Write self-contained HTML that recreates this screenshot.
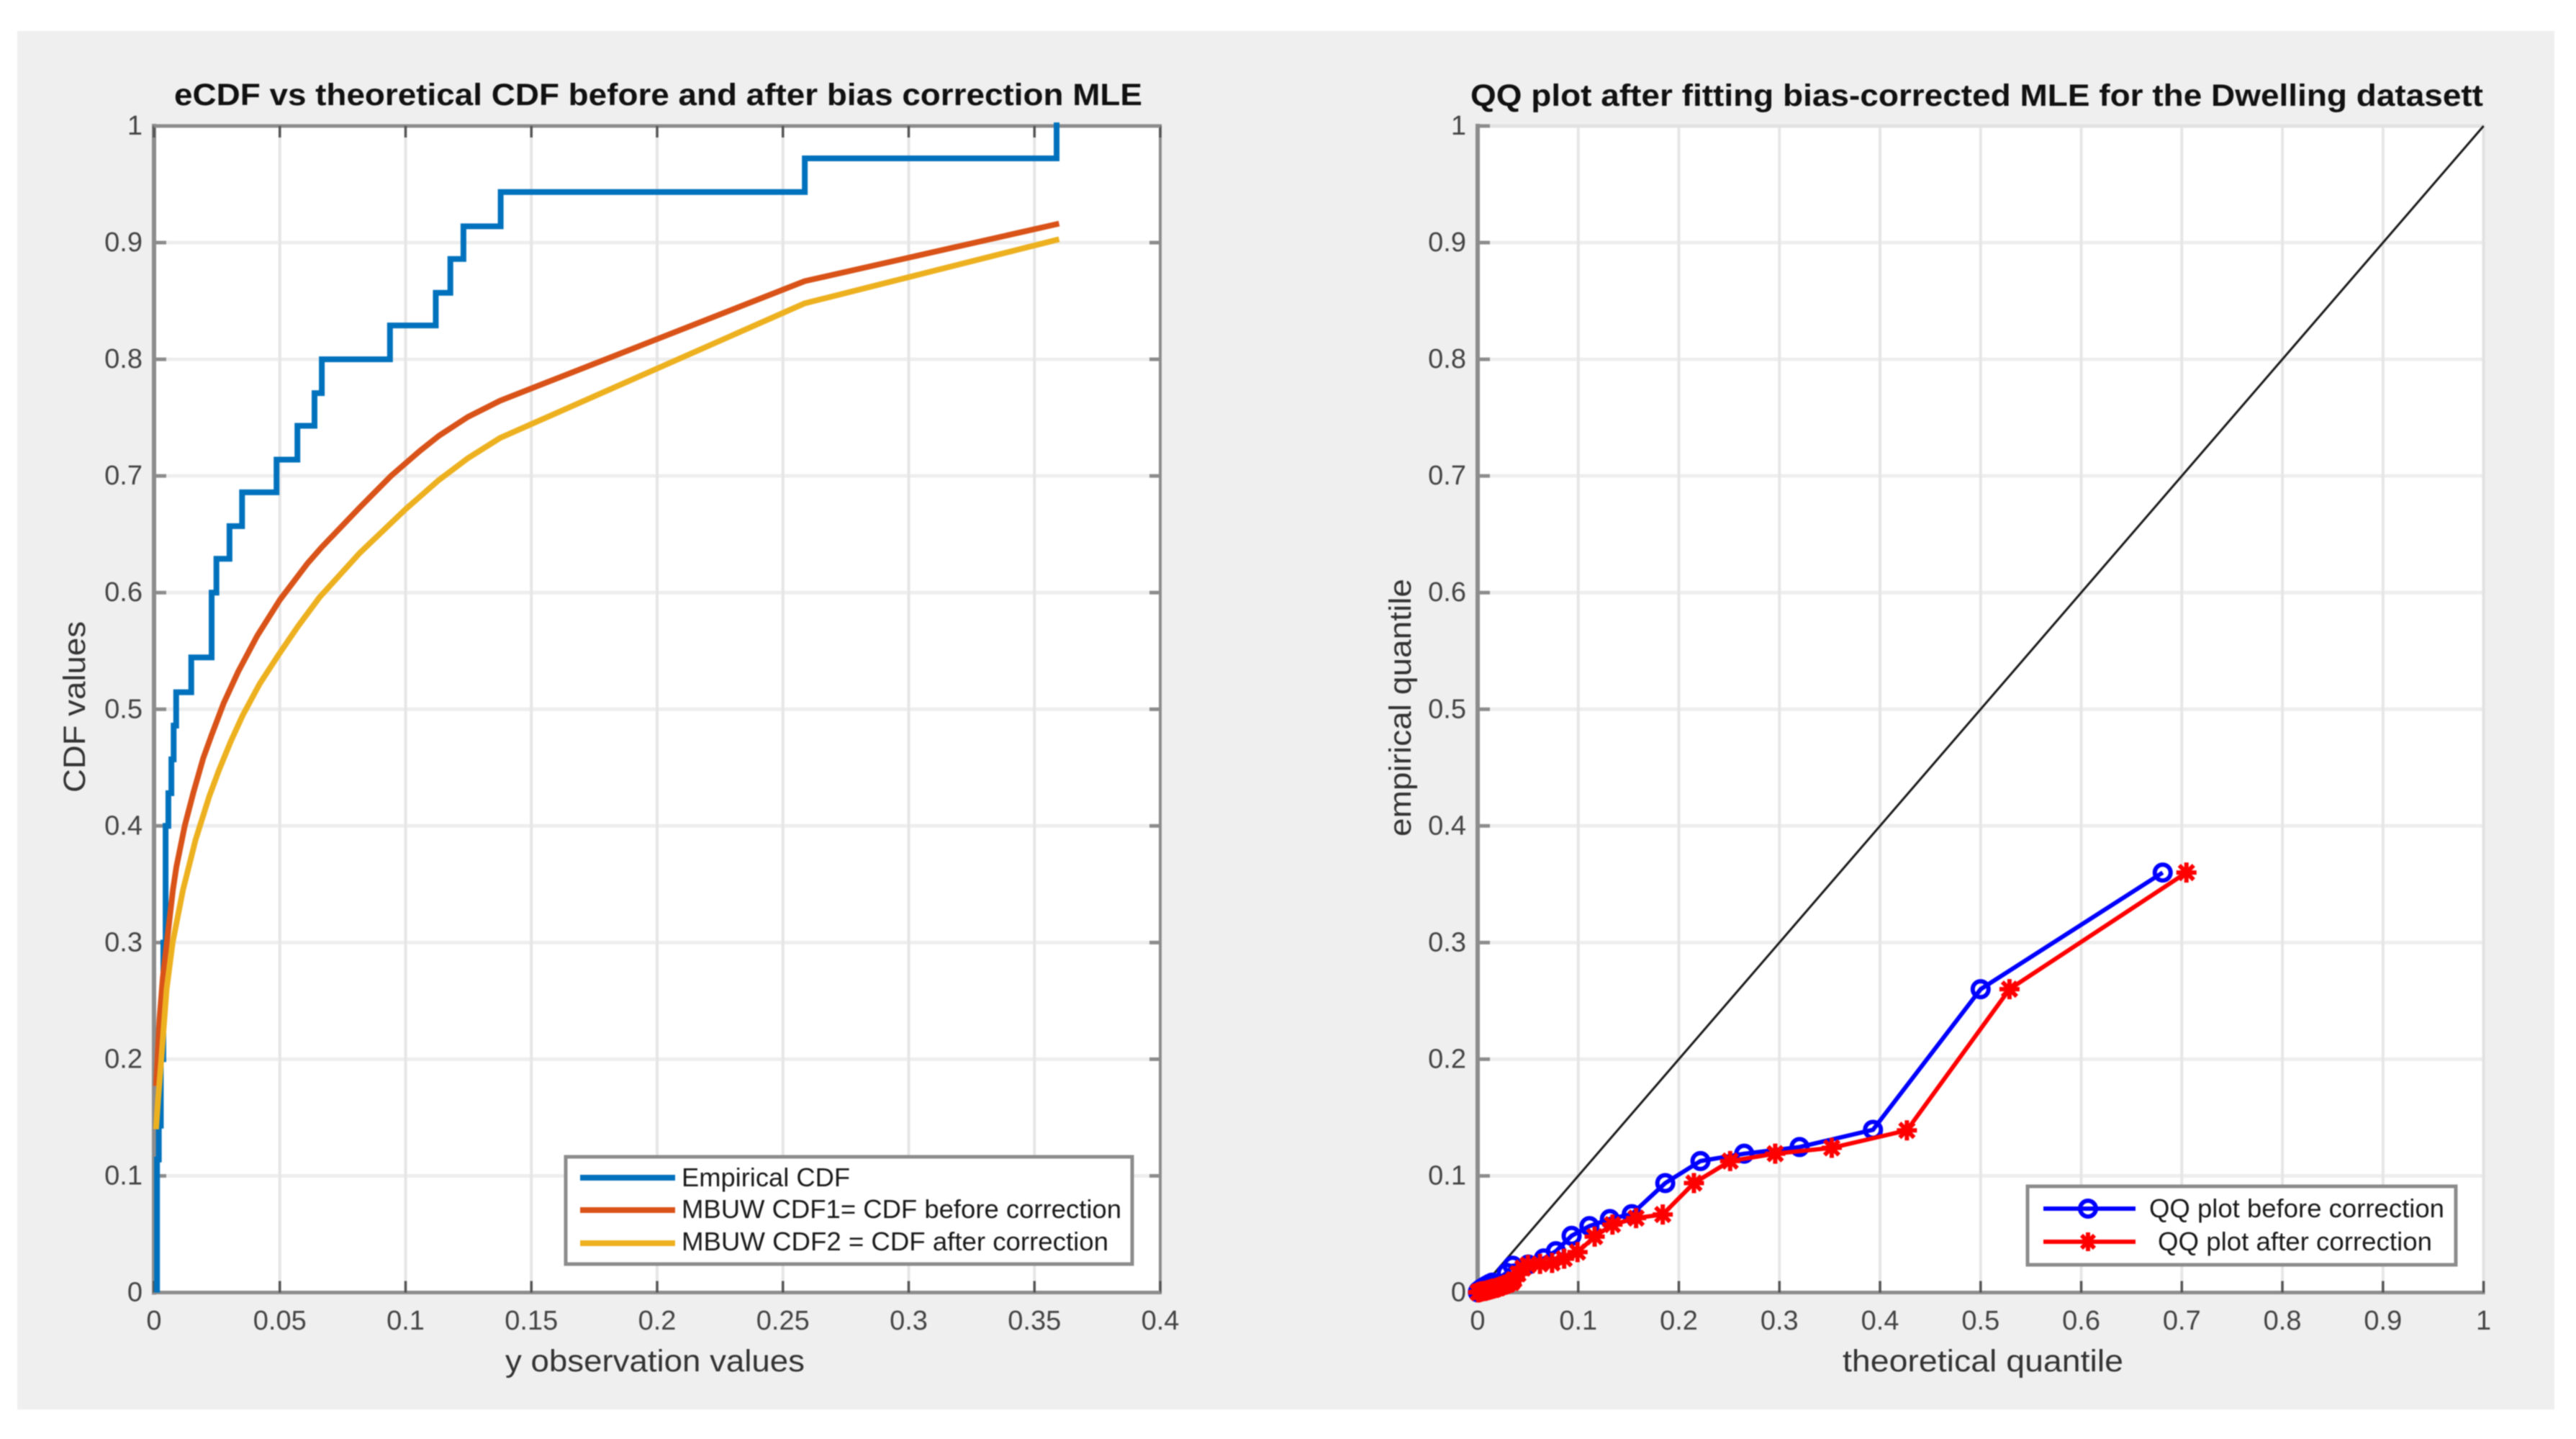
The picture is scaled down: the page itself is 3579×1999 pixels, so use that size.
<!DOCTYPE html>
<html lang="en">
<head>
<meta charset="utf-8">
<title>eCDF and QQ plots</title>
<style>
html,body{margin:0;padding:0;background:#fff;}
#figure{display:block;width:3579px;height:1999px;filter:blur(0.9px);}
text{font-family:"Liberation Sans",Arial,sans-serif;}
.tick{font-size:38px;fill:#444;}
.axis-label{font-size:43px;fill:#333;}
.title{font-size:43px;font-weight:bold;fill:#111;}
.legend-text{font-size:36px;fill:#1a1a1a;}
</style>
</head>
<body>
<svg id="figure" xmlns="http://www.w3.org/2000/svg" width="3579" height="1999" viewBox="0 0 3579 1999">
  <rect x="0" y="0" width="3579" height="1999" fill="#ffffff"/>
  <rect x="24" y="43" width="3525" height="1915" fill="#efefef"/>

  <g>
    <rect x="214" y="175" width="1398" height="1621" fill="#ffffff"/>
    <g id="left-grid"></g>
    <g id="left-axes"></g>
    <g id="left-series"></g>
    <text class="title" x="242" y="146" textLength="1345" lengthAdjust="spacingAndGlyphs">eCDF vs theoretical CDF before and after bias correction MLE</text>
    <text class="axis-label" x="702" y="1905" textLength="416" lengthAdjust="spacingAndGlyphs">y observation values</text>
    <text class="axis-label" transform="translate(118 982) rotate(-90)" text-anchor="middle" textLength="238" lengthAdjust="spacingAndGlyphs">CDF values</text>
    <g>
      <rect x="786" y="1607" width="787" height="149" fill="#ffffff" stroke="#8c8c8c" stroke-width="5"/>
      <line x1="806" x2="938" y1="1636" y2="1636" stroke="#0072BD" stroke-width="8"/>
      <text class="legend-text" x="947" y="1648" textLength="234" lengthAdjust="spacingAndGlyphs">Empirical CDF</text>
      <line x1="806" x2="938" y1="1681" y2="1681" stroke="#D95319" stroke-width="8"/>
      <text class="legend-text" x="947" y="1692" textLength="611" lengthAdjust="spacingAndGlyphs">MBUW CDF1= CDF before correction</text>
      <line x1="806" x2="938" y1="1727" y2="1727" stroke="#EDB120" stroke-width="8"/>
      <text class="legend-text" x="947" y="1737" textLength="593" lengthAdjust="spacingAndGlyphs">MBUW CDF2 = CDF after correction</text>
    </g>
  </g>

  <g>
    <rect x="2053" y="175" width="1398" height="1621" fill="#ffffff"/>
    <g id="right-grid"></g>
    <g id="right-axes"></g>
    <g id="right-series"></g>
    <text class="title" x="2043" y="147" textLength="1407" lengthAdjust="spacingAndGlyphs">QQ plot after fitting bias-corrected MLE for the Dwelling datasett</text>
    <text class="axis-label" x="2560" y="1905" textLength="390" lengthAdjust="spacingAndGlyphs">theoretical quantile</text>
    <text class="axis-label" transform="translate(1960 983) rotate(-90)" text-anchor="middle" textLength="358" lengthAdjust="spacingAndGlyphs">empirical quantile</text>
    <g>
      <rect x="2817" y="1648" width="595" height="109" fill="#ffffff" stroke="#8c8c8c" stroke-width="5"/>
      <line x1="2839" x2="2967" y1="1679" y2="1679" stroke="#0000ff" stroke-width="6"/>
      <circle cx="2901" cy="1679" r="11" fill="none" stroke="#0000ff" stroke-width="6"/>
      <text class="legend-text" x="2986" y="1691" textLength="410" lengthAdjust="spacingAndGlyphs">QQ plot before correction</text>
      <line x1="2839" x2="2967" y1="1725" y2="1725" stroke="#ff0000" stroke-width="6"/>
      <path d="M2888 1725H2914M2901 1712V1738M2892 1716L2910 1734M2892 1734L2910 1716" fill="none" stroke="#ff0000" stroke-width="6"/>
      <text class="legend-text" x="2998" y="1737" textLength="381" lengthAdjust="spacingAndGlyphs">QQ plot after correction</text>
    </g>
  </g>
</svg>
<script>
// ---------- chart data ----------
const cdfXTicks = [0, 0.05, 0.1, 0.15, 0.2, 0.25, 0.3, 0.35, 0.4];
const cdfXLabels = ['0', '0.05', '0.1', '0.15', '0.2', '0.25', '0.3', '0.35', '0.4'];
const unitTicks = [0, 0.1, 0.2, 0.3, 0.4, 0.5, 0.6, 0.7, 0.8, 0.9, 1];
const unitLabels = ['0', '0.1', '0.2', '0.3', '0.4', '0.5', '0.6', '0.7', '0.8', '0.9', '1'];

const ecdfJumpX = [0.0012, 0.0019, 0.0027, 0.0037, 0.0046, 0.0057, 0.0069, 0.0078, 0.0088, 0.0148, 0.0229, 0.0248, 0.03, 0.035, 0.0487, 0.057, 0.0638, 0.0667, 0.0938, 0.112, 0.1178, 0.123, 0.1378, 0.2587, 0.3588];
const ecdfLevel = [0.114, 0.143, 0.2, 0.3, 0.4, 0.428, 0.457, 0.486, 0.5146, 0.5444, 0.6, 0.629, 0.657, 0.686, 0.714, 0.743, 0.771, 0.8, 0.829, 0.857, 0.886, 0.914, 0.9434, 0.9722, 1.003];

const beforeCdfX = [0.0008, 0.0014, 0.0022, 0.0035, 0.0051, 0.0075, 0.0089, 0.0122, 0.0157, 0.01955, 0.0229, 0.0277, 0.0334, 0.041, 0.0501, 0.061, 0.0667, 0.0818, 0.0942, 0.1057, 0.1133, 0.1247, 0.1376, 0.2587, 0.3598];
const beforeCdfY = [0.177, 0.2, 0.235, 0.27, 0.3, 0.345, 0.365, 0.4, 0.429, 0.458, 0.478, 0.5053, 0.532, 0.5629, 0.594, 0.625, 0.639, 0.673, 0.7, 0.7215, 0.7345, 0.7505, 0.7645, 0.867, 0.9163];

const afterCdfX = [0.0008, 0.0016, 0.0029, 0.005, 0.0074, 0.0115, 0.0165, 0.0219, 0.0258, 0.0305, 0.0353, 0.042, 0.0496, 0.0572, 0.0658, 0.0818, 0.1, 0.1133, 0.1247, 0.1376, 0.2587, 0.3598];
const afterCdfY = [0.14, 0.165, 0.2, 0.26, 0.3, 0.345, 0.388, 0.425, 0.4477, 0.4724, 0.495, 0.5218, 0.547, 0.571, 0.596, 0.634, 0.6715, 0.6966, 0.7151, 0.7326, 0.848, 0.9029];

const refLineX = [0, 1];
const refLineY = [0, 1];

const qqBeforeX = [0.681, 0.5, 0.393, 0.32, 0.265, 0.2215, 0.1865, 0.1532, 0.1314, 0.1111, 0.0934, 0.0778, 0.0658, 0.0502, 0.0348, 0.0288, 0.0145, 0.012, 0.01, 0.009, 0.008, 0.007, 0.006, 0.005, 0.004, 0.0035, 0.003, 0.0025, 0.002, 0.0015, 0.001, 0.0008, 0.0006, 0.0004, 0.0002];
const qqBeforeY = [0.36, 0.26, 0.1395, 0.1247, 0.119, 0.1127, 0.0938, 0.0672, 0.063, 0.0569, 0.0486, 0.0354, 0.0292, 0.024, 0.023, 0.0168, 0.0085, 0.0075, 0.0065, 0.006, 0.0055, 0.005, 0.0045, 0.004, 0.0035, 0.003, 0.0027, 0.0024, 0.002, 0.0017, 0.0014, 0.0012, 0.001, 0.0006, 0.0002];
const qqAfterX = [0.7046, 0.5287, 0.4267, 0.352, 0.2958, 0.251, 0.215, 0.184, 0.1575, 0.134, 0.1163, 0.0993, 0.086, 0.074, 0.062, 0.05, 0.045, 0.04, 0.036, 0.0336, 0.03, 0.027, 0.024, 0.021, 0.019, 0.016, 0.014, 0.012, 0.01, 0.008, 0.006, 0.004, 0.003, 0.002, 0.001, 0.0005];
const qqAfterY = [0.36, 0.26, 0.139, 0.124, 0.119, 0.1127, 0.0938, 0.0669, 0.0638, 0.0582, 0.0479, 0.0346, 0.029, 0.0254, 0.0245, 0.0235, 0.021, 0.016, 0.011, 0.0085, 0.0075, 0.0066, 0.0055, 0.0046, 0.004, 0.0035, 0.003, 0.0025, 0.002, 0.0015, 0.0012, 0.001, 0.0008, 0.0005, 0.0003, 0.0001];

// ---------- axis functions ----------
const yScale = v => 1795.5 - 1620.5 * v;
const xCdf = v => 214 + 3495 * v;
const xQQ = v => 2053 + 1397.6 * v;

const NS = 'http://www.w3.org/2000/svg';
function make(tag, attrs, parent) {
  const node = document.createElementNS(NS, tag);
  for (const key in attrs) node.setAttribute(key, attrs[key]);
  parent.appendChild(node);
  return node;
}
function polyPath(xs, ys, xf) {
  return xs.map((v, i) => (i ? 'L' : 'M') + xf(v).toFixed(2) + ' ' + yScale(ys[i]).toFixed(2)).join('');
}

const leftGrid = document.getElementById('left-grid');
const leftAxes = document.getElementById('left-axes');
const leftSeries = document.getElementById('left-series');
const rightGrid = document.getElementById('right-grid');
const rightAxes = document.getElementById('right-axes');
const rightSeries = document.getElementById('right-series');

const AXIS = '#8c8c8c', GRID_V = '#e6e6e6', GRID_H = '#eeeeee', TICK = '#555555';

function drawGrid(parent, xTicks, xf, x0, x1) {
  unitTicks.forEach(t => {
    const g = make('line', {x1: x0, x2: x1, y1: yScale(t), y2: yScale(t), stroke: GRID_H, 'stroke-width': 5}, parent);
    
    
  });
  xTicks.forEach(t => {
    const g = make('line', {x1: xf(t), x2: xf(t), y1: yScale(1), y2: yScale(0), stroke: GRID_V, 'stroke-width': 4}, parent);
    
    
  });
}

function drawAxes(parent, xTicks, xLabels, xf, x0, x1, boxed) {
  const top = yScale(1), bottom = yScale(0);
  const spineLeft = make('line', {x1: x0, x2: x0, y1: top - 3, y2: bottom + 3, stroke: AXIS, 'stroke-width': 6}, parent);
  
  
  const spineBottom = make('line', {x1: x0, x2: x1 + 2, y1: bottom, y2: bottom, stroke: AXIS, 'stroke-width': 5}, parent);
  
  
  if (boxed) {
    const spineTop = make('line', {x1: x0, x2: x1 + 2, y1: top, y2: top, stroke: AXIS, 'stroke-width': 5}, parent);
    
    
    const spineRight = make('line', {x1: x1, x2: x1, y1: top, y2: bottom, stroke: AXIS, 'stroke-width': 4}, parent);
    
    
  } else {
    const edgeTop = make('line', {x1: x0, x2: x1 + 2, y1: top, y2: top, stroke: '#e2e2e2', 'stroke-width': 5}, parent);
    
    
    const edgeRight = make('line', {x1: x1, x2: x1, y1: top, y2: bottom, stroke: '#e2e2e2', 'stroke-width': 4}, parent);
    
    
  }
  xTicks.forEach((t, i) => {
    const mark = make('line', {x1: xf(t), x2: xf(t), y1: bottom, y2: bottom - 16, stroke: TICK, 'stroke-width': 3.5}, parent);
    
    
    if (boxed) {
      const upper = make('line', {x1: xf(t), x2: xf(t), y1: top, y2: top + 16, stroke: TICK, 'stroke-width': 3.5}, parent);
      
      
    }
    const label = make('text', {x: xf(t), y: 1847, 'text-anchor': 'middle', class: 'tick'}, parent);
    
    
    label.textContent = xLabels[i];
  });
  unitTicks.forEach((t, i) => {
    const mark = make('line', {x1: x0, x2: x0 + 17, y1: yScale(t), y2: yScale(t), stroke: AXIS, 'stroke-width': 5}, parent);
    
    
    if (boxed) {
      const side = make('line', {x1: x1, x2: x1 - 15, y1: yScale(t), y2: yScale(t), stroke: AXIS, 'stroke-width': 5}, parent);
      
      
    }
    const label = make('text', {x: x0 - 16, y: yScale(t) + 12, 'text-anchor': 'end', class: 'tick'}, parent);
    
    
    label.textContent = unitLabels[i];
  });
}

drawGrid(leftGrid, cdfXTicks, xCdf, xCdf(0), xCdf(0.4));
drawAxes(leftAxes, cdfXTicks, cdfXLabels, xCdf, xCdf(0), xCdf(0.4), true);
drawGrid(rightGrid, unitTicks, xQQ, xQQ(0), xQQ(1));
drawAxes(rightAxes, unitTicks, unitLabels, xQQ, xQQ(0), xQQ(1), false);

// ---------- left series ----------
let stairs = 'M' + xCdf(ecdfJumpX[0]).toFixed(2) + ' ' + yScale(0).toFixed(2);
ecdfJumpX.forEach((v, i) => {
  stairs += 'L' + xCdf(v).toFixed(2) + ' ' + yScale(i ? ecdfLevel[i - 1] : 0).toFixed(2);
  stairs += 'L' + xCdf(v).toFixed(2) + ' ' + yScale(ecdfLevel[i]).toFixed(2);
});
const ecdfLine = make('path', {d: stairs, fill: 'none', stroke: '#0072BD', 'stroke-width': 8}, leftSeries);



const beforeLine = make('path', {d: polyPath(beforeCdfX, beforeCdfY, xCdf), fill: 'none', stroke: '#D95319', 'stroke-width': 8, 'stroke-linejoin': 'round'}, leftSeries);



const afterLine = make('path', {d: polyPath(afterCdfX, afterCdfY, xCdf), fill: 'none', stroke: '#EDB120', 'stroke-width': 8, 'stroke-linejoin': 'round'}, leftSeries);



// ---------- right series ----------
const refLine = make('path', {d: polyPath(refLineX, refLineY, xQQ), fill: 'none', stroke: '#1a1a1a', 'stroke-width': 3}, rightSeries);



const qqBeforeLine = make('path', {d: polyPath(qqBeforeX, qqBeforeY, xQQ), fill: 'none', stroke: '#0000ff', 'stroke-width': 6}, rightSeries);



qqBeforeX.forEach((v, i) => {
  const dot = make('circle', {cx: xQQ(v), cy: yScale(qqBeforeY[i]), r: 11, fill: 'none', stroke: '#0000ff', 'stroke-width': 6}, rightSeries);
  
  
});

const qqAfterLine = make('path', {d: polyPath(qqAfterX, qqAfterY, xQQ), fill: 'none', stroke: '#ff0000', 'stroke-width': 6}, rightSeries);



qqAfterX.forEach((v, i) => {
  const cx = xQQ(v), cy = yScale(qqAfterY[i]), a = 14, b = 10;
  const d = 'M' + (cx - a) + ' ' + cy + 'L' + (cx + a) + ' ' + cy +
            'M' + cx + ' ' + (cy - a) + 'L' + cx + ' ' + (cy + a) +
            'M' + (cx - b) + ' ' + (cy - b) + 'L' + (cx + b) + ' ' + (cy + b) +
            'M' + (cx - b) + ' ' + (cy + b) + 'L' + (cx + b) + ' ' + (cy - b);
  const star = make('path', {d: d, fill: 'none', stroke: '#ff0000', 'stroke-width': 6}, rightSeries);
  
  
});
</script>
</body>
</html>
